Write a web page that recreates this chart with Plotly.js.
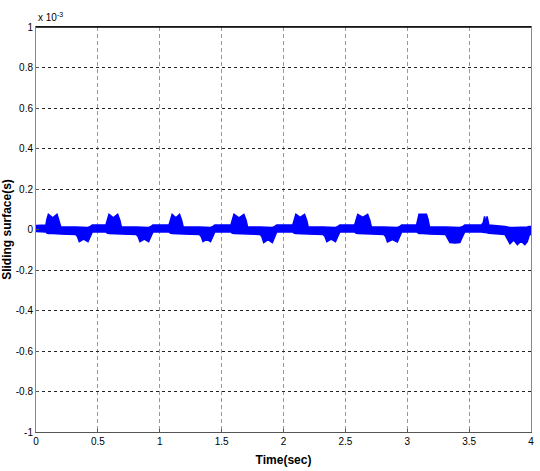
<!DOCTYPE html>
<html>
<head>
<meta charset="utf-8">
<script src="https://cdn.plot.ly/plotly-3.0.1.min.js"></script>
<style>
  body { margin: 0; background: #fff; }
  #graph { width: 540px; height: 471px; }
</style>
</head>
<body>
<div id="graph"></div>
<script>
// sliding surface envelope (units of 1e-3)
const t = [
  0, 0.08, 0.088, 0.10, 0.135, 0.17, 0.185, 0.20, 0.32, 0.335, 0.35, 0.385, 0.42, 0.44, 0.455,
  0.565, 0.575, 0.59, 0.625, 0.66, 0.678, 0.69, 0.81, 0.825, 0.84, 0.875, 0.91, 0.93, 0.945,
  1.075, 1.085, 1.10, 1.13, 1.16, 1.177, 1.19, 1.32, 1.335, 1.35, 1.38, 1.41, 1.43, 1.445,
  1.575, 1.585, 1.60, 1.64, 1.68, 1.698, 1.71, 1.81, 1.825, 1.84, 1.875, 1.91, 1.93, 1.945,
  2.075, 2.085, 2.10, 2.135, 2.17, 2.188, 2.20, 2.32, 2.335, 2.35, 2.385, 2.42, 2.44, 2.455,
  2.575, 2.585, 2.60, 2.64, 2.68, 2.698, 2.71, 2.81, 2.825, 2.84, 2.88, 2.92, 2.94, 2.955,
  3.075, 3.085, 3.095, 3.125, 3.155, 3.168, 3.18, 3.31, 3.325, 3.345, 3.385, 3.425, 3.45, 3.465,
  3.60, 3.615, 3.625, 3.635, 3.645, 3.66, 3.79, 3.805, 3.83, 3.86, 3.89, 3.92, 3.95, 3.97, 3.985, 4.0
];

const upper = [
  0.02, 0.022, 0.05, 0.075, 0.058, 0.075, 0.045, 0.012, 0.012, 0.012, 0.01, 0.012, 0.01, 0.015, 0.022,
  0.022, 0.05, 0.075, 0.058, 0.075, 0.045, 0.012, 0.012, 0.012, 0.01, 0.012, 0.01, 0.015, 0.022,
  0.022, 0.05, 0.075, 0.058, 0.075, 0.045, 0.012, 0.012, 0.012, 0.01, 0.012, 0.01, 0.015, 0.022,
  0.022, 0.05, 0.075, 0.058, 0.075, 0.045, 0.012, 0.012, 0.012, 0.01, 0.012, 0.01, 0.015, 0.022,
  0.022, 0.05, 0.075, 0.06, 0.075, 0.045, 0.012, 0.012, 0.012, 0.01, 0.012, 0.01, 0.015, 0.022,
  0.022, 0.05, 0.075, 0.06, 0.075, 0.045, 0.012, 0.012, 0.012, 0.01, 0.012, 0.01, 0.015, 0.022,
  0.022, 0.06, 0.075, 0.075, 0.075, 0.05, 0.012, 0.012, 0.012, 0.01, 0.01, 0.01, 0.015, 0.022,
  0.022, 0.035, 0.065, 0.03, 0.065, 0.022, 0.015, 0.012, 0.01, 0.01, 0.01, 0.01, 0.01, 0.012, 0.015, 0.015
];

const lower = [
  -0.01, -0.012, -0.018, -0.02, -0.02, -0.02, -0.02, -0.022, -0.025, -0.035, -0.06, -0.048, -0.06, -0.03, -0.012,
  -0.012, -0.018, -0.02, -0.02, -0.02, -0.02, -0.022, -0.025, -0.035, -0.06, -0.048, -0.06, -0.03, -0.012,
  -0.012, -0.018, -0.02, -0.02, -0.02, -0.02, -0.022, -0.025, -0.035, -0.06, -0.048, -0.06, -0.03, -0.012,
  -0.012, -0.018, -0.02, -0.02, -0.02, -0.02, -0.022, -0.025, -0.035, -0.065, -0.05, -0.065, -0.03, -0.012,
  -0.012, -0.018, -0.02, -0.02, -0.02, -0.02, -0.022, -0.025, -0.035, -0.06, -0.048, -0.06, -0.03, -0.012,
  -0.012, -0.018, -0.02, -0.02, -0.02, -0.02, -0.022, -0.025, -0.035, -0.062, -0.05, -0.062, -0.03, -0.012,
  -0.012, -0.018, -0.02, -0.02, -0.02, -0.02, -0.022, -0.025, -0.04, -0.064, -0.067, -0.064, -0.03, -0.012,
  -0.012, -0.015, -0.015, -0.015, -0.015, -0.018, -0.025, -0.04, -0.07, -0.052, -0.075, -0.057, -0.075, -0.06, -0.03, -0.02
];

const xTicks = [0, 0.5, 1, 1.5, 2, 2.5, 3, 3.5, 4];
const xTickText = ["0", "0.5", "1", "1.5", "2", "2.5", "3", "3.5", "4"];
const yTicks = [-1, -0.8, -0.6, -0.4, -0.2, 0, 0.2, 0.4, 0.6, 0.8, 1];
const yTickText = ["-1", "-0.8", "-0.6", "-0.4", "-0.2", "0", "0.2", "0.4", "0.6", "0.8", "1"];

const blue = "#0000ff";
const narrow = "Liberation Sans Narrow, Liberation Sans, Arial, sans-serif";

const lowTrace = {
  x: t,
  y: lower,
  type: "scatter",
  mode: "lines",
  line: { color: blue, width: 1.5 },
  hoverinfo: "skip",
};

const highTrace = {
  x: t,
  y: upper,
  type: "scatter",
  mode: "lines",
  fill: "tonexty",
  fillcolor: blue,
  line: { color: blue, width: 1.5 },
  hoverinfo: "skip",
};

const layout = {
  width: 540,
  height: 471,
  margin: { l: 36, r: 9, t: 27, b: 39 },
  paper_bgcolor: "#fff",
  plot_bgcolor: "#fff",
  showlegend: false,
  font: { family: narrow, size: 10, color: "#000" },
  xaxis: {
    range: [0, 4],
    tickvals: xTicks,
    ticktext: xTickText,
    showgrid: true,
    gridcolor: "#999",
    griddash: "4px,3px",
    gridwidth: 1,
    zeroline: false,
    showline: true,
    mirror: true,
    linecolor: "#555",
    linewidth: 1,
    ticks: "inside",
    ticklen: 3,
    tickcolor: "#555",
    tickfont: { family: narrow, size: 10 },
    title: {
      text: "<b>Time(sec)</b>",
      font: { family: narrow, size: 12 },
      standoff: 9,
    },
  },
  yaxis: {
    range: [-1, 1],
    tickvals: yTicks,
    ticktext: yTickText,
    showgrid: true,
    gridcolor: "#222",
    griddash: "dot",
    gridwidth: 1,
    zeroline: false,
    showline: true,
    mirror: true,
    linecolor: "#888",
    linewidth: 1,
    ticks: "inside",
    ticklen: 3,
    tickcolor: "#555",
    tickfont: { family: narrow, size: 10 },
    title: {
      text: "<b>Sliding surface(s)</b>",
      font: { family: "Liberation Sans, Arial, sans-serif", size: 12 },
      standoff: 8,
    },
  },
  shapes: [
    {
      type: "line",
      xref: "paper",
      yref: "paper",
      x0: 0,
      x1: 1,
      y0: 1,
      y1: 1,
      line: { color: "#000", width: 1.5 },
    },
  ],
  annotations: [
    {
      xref: "paper",
      yref: "paper",
      x: 0,
      y: 1,
      xanchor: "left",
      yanchor: "bottom",
      yshift: 2,
      showarrow: false,
      text: "x 10<sup>-3</sup>",
      font: { family: narrow, size: 10 },
    },
  ],
};

Plotly.newPlot("graph", [lowTrace, highTrace], layout, { displayModeBar: false, staticPlot: true });
</script>
</body>
</html>
